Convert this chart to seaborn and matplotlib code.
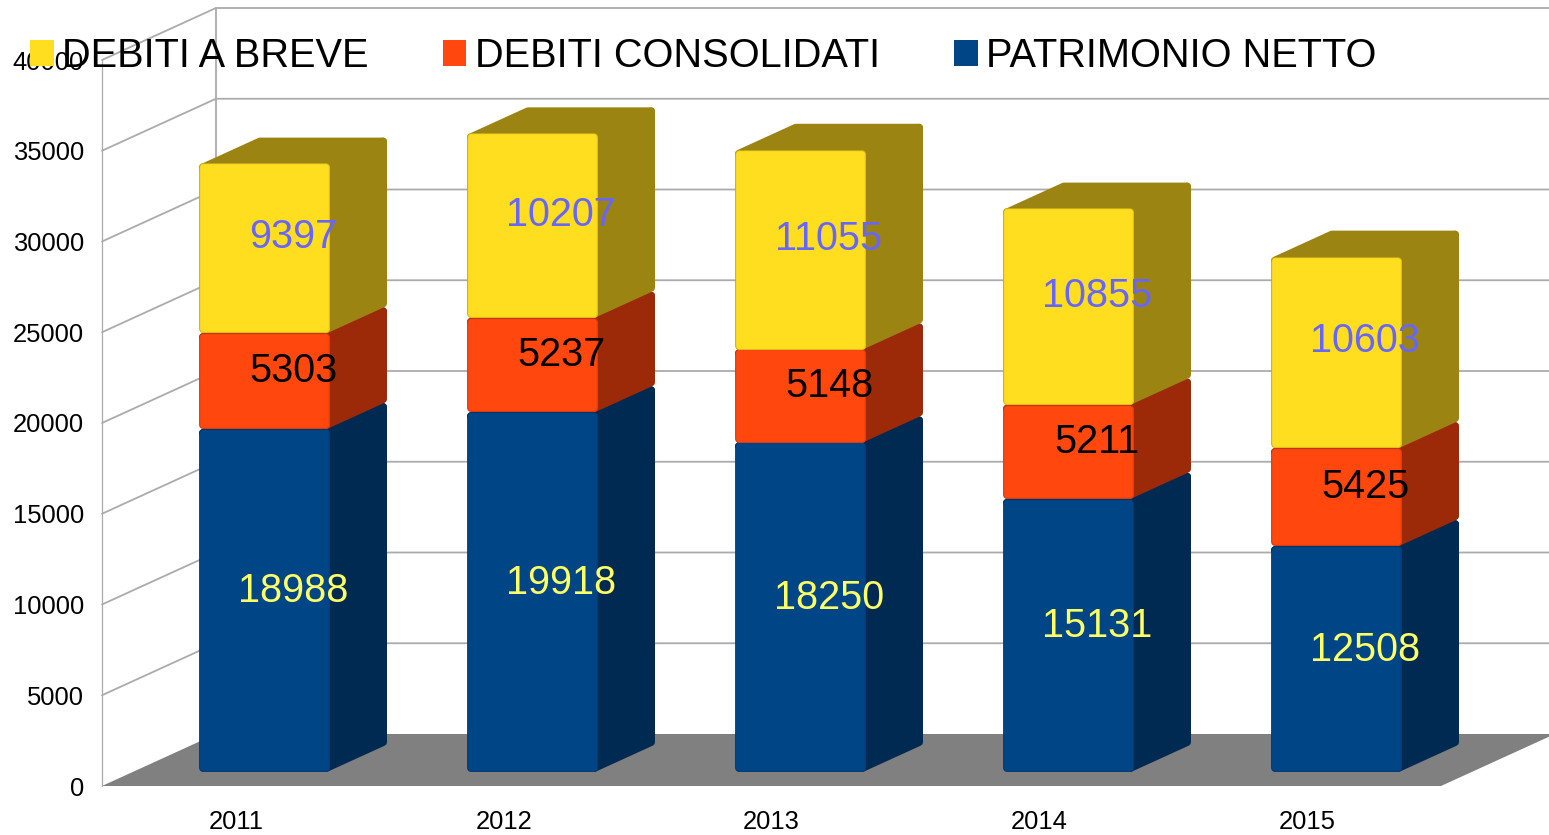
import matplotlib
matplotlib.use("Agg")
import matplotlib.pyplot as plt
import matplotlib.patheffects as pe
import numpy as np
import pandas as pd
import seaborn as sns
from matplotlib.colors import to_rgb
from matplotlib.patches import Patch, Polygon

years = ["2011", "2012", "2013", "2014", "2015"]
patrimonio = [18988, 19918, 18250, 15131, 12508]
consolidati = [5303, 5237, 5148, 5211, 5425]
breve = [9397, 10207, 11055, 10855, 10603]
y_ticks = [0, 5000, 10000, 15000, 20000, 25000, 30000, 35000, 40000]

series_names = ["PATRIMONIO NETTO", "DEBITI CONSOLIDATI", "DEBITI A BREVE"]
face_colors = ["#004586", "#FF470E", "#FFDD1F"]
side_colors = ["#002A51", "#9C2A08", "#9C8413"]
label_colors = ["#FFFF66", "#000000", "#6666FF"]
label_nudge_px = [3.5, 3, 2]

W, H = 1549, 835
GRID = "#ABABAB"

sns.set_theme(style="white")
plt.rcParams["font.family"] = ["Liberation Sans", "DejaVu Sans"]

fig = plt.figure(figsize=(W / 100, H / 100), dpi=100, facecolor="white")


def px_axes(left, right, bottom, top):
    return fig.add_axes([left / W, 1 - bottom / H, (right - left) / W, (bottom - top) / H])


# front plane of the chart box, holds the real tick labels
ax = px_axes(102, 1441, 786, 60)
ax.set_xlim(-0.5, 4.5)
ax.set_ylim(0, 40000)
ax.patch.set_alpha(0)

wall_x = 114 / 268
wall_y = 52 / 726 * 40000
x0, x1 = -0.5, 4.5

ax.add_patch(Polygon([(x0, 0), (x1, 0), (x1 + wall_x, wall_y), (x0 + wall_x, wall_y)],
                     closed=True, facecolor="#808080", edgecolor="none", clip_on=False, zorder=1))
for t in y_ticks[1:]:
    ax.plot([x0, x0 + wall_x, x1 + wall_x], [t, t + wall_y, t + wall_y],
            color=GRID, lw=1.3, clip_on=False, zorder=2, solid_joinstyle="miter")
ax.plot([x0 + wall_x, x0 + wall_x], [wall_y, 40000 + wall_y], color=GRID, lw=1.3, clip_on=False, zorder=2)

ax.set_xticks(range(len(years)))
ax.set_xticklabels(years)
ax.set_yticks(y_ticks)
ax.set_yticklabels([str(t) for t in y_ticks])
ax.tick_params(axis="x", length=0, pad=17, labelsize=18.4, colors="black")
ax.tick_params(axis="y", length=0, pad=13, labelsize=18.4, colors="black")
for name in ["top", "right", "bottom"]:
    ax.spines[name].set_visible(False)
ax.spines["left"].set_color(GRID)
ax.spines["left"].set_linewidth(0.9)

# plane of the bar fronts, sits a bit deeper in the box
scale = 0.01806
base_px = 772
top_px = 20
ax_bars = px_axes(264.5 - 134, 264.5 + 4 * 268 + 134, base_px, top_px)
ax_bars.patch.set_alpha(0)

stroke = 5.6
inset_px = stroke * 100 / 72 / 2
inset_y = inset_px / scale
depth_x = 57 / 268
depth_y = 26 / scale
bar_width = (131 - 2 * inset_px) / 268

bottom = np.zeros(len(years))
for i, vals in enumerate([patrimonio, consolidati, breve]):
    df = pd.DataFrame({"year": years, "value": vals})
    before = len(ax_bars.patches)
    sns.barplot(data=df, x="year", y="value", color=face_colors[i], saturation=1,
                width=bar_width, bottom=bottom, ax=ax_bars, errorbar=None)
    face = np.array(to_rgb(face_colors[i]))
    bevel = [pe.Stroke(linewidth=stroke, foreground=face * 0.78, joinstyle="round"),
             pe.Stroke(linewidth=stroke - 0.8, foreground=face * 0.9, joinstyle="round"),
             pe.Stroke(linewidth=stroke - 1.6, foreground=face, joinstyle="round"),
             pe.Normal()]
    for bar, v in zip(ax_bars.patches[before:], vals):
        bx, by = bar.get_x(), bar.get_y()
        bw, bh = bar.get_width(), bar.get_height()
        ax_bars.text(bx + bw / 2 + depth_x / 2, by + bh / 2 + depth_y / 2 - label_nudge_px[i] / scale,
                     str(v), ha="center", va="center", fontsize=28.5, color=label_colors[i], zorder=30)
        # pull the box in so the rounded stroke ends on the value
        by, bh = by + inset_y, bh - 2 * inset_y
        bar.set_y(by)
        bar.set_height(bh)
        bar.set_edgecolor("none")
        bar.set_zorder(3 * i + 3)
        bar.set_clip_on(False)
        bar.set_path_effects(bevel)
        side = [(bx + bw, by), (bx + bw + depth_x, by + depth_y),
                (bx + bw + depth_x, by + bh + depth_y), (bx + bw, by + bh)]
        lid = [(bx, by + bh), (bx + bw, by + bh),
               (bx + bw + depth_x, by + bh + depth_y), (bx + depth_x, by + bh + depth_y)]
        for pts in [side, lid]:
            ax_bars.add_patch(Polygon(pts, closed=True, facecolor=side_colors[i],
                                      edgecolor=side_colors[i], lw=stroke, joinstyle="round",
                                      clip_on=False, zorder=3 * i + 2))
    bottom = bottom + np.array(vals)

ax_bars.set_xlim(-0.5, 4.5)
ax_bars.set_ylim(0, (base_px - top_px) / scale)
ax_bars.axis("off")

handles = [Patch(facecolor=face_colors[i], edgecolor="none") for i in [2, 1, 0]]
labels = [series_names[i] for i in [2, 1, 0]]
fig.legend(handles, labels, loc="center left", bbox_to_anchor=(30 / W, 1 - 56 / H), ncols=3,
           frameon=False, fontsize=28.6, handlelength=0.6, handleheight=0.6,
           handletextpad=0.21, columnspacing=1.86, borderpad=0, borderaxespad=0, labelcolor="black")

fig.savefig("out.png", dpi=100, facecolor="white")
